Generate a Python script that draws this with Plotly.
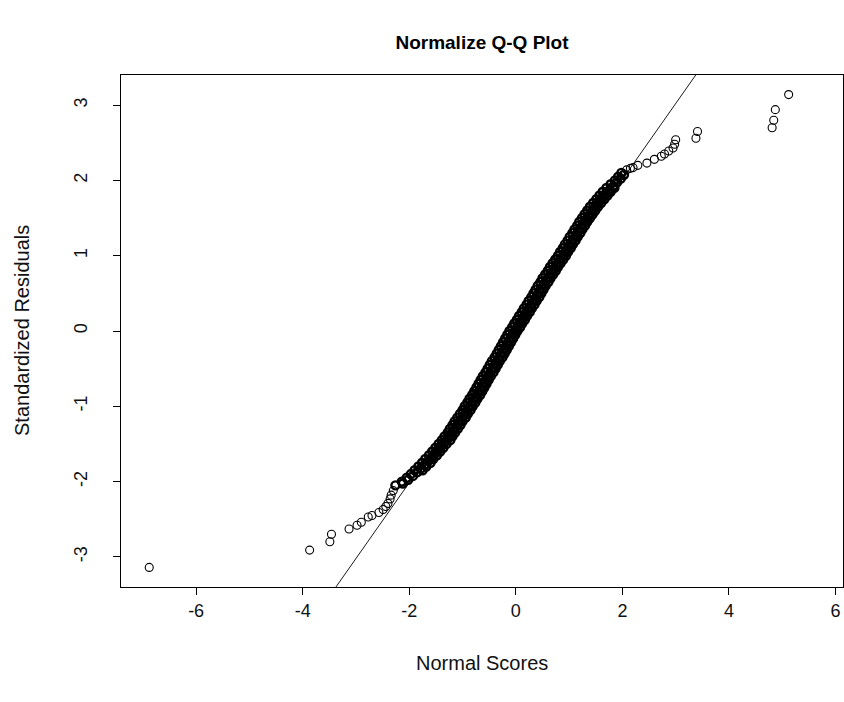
import plotly.graph_objects as go

# ---- data ----
# lower tail (x = normal scores, y = standardized residuals)
lower_x = [-6.88, -3.87, -3.49, -3.46, -3.13, -2.98, -2.90, -2.77, -2.70, -2.57,
           -2.49, -2.44, -2.40, -2.36, -2.34, -2.30]
lower_y = [-3.14, -2.91, -2.80, -2.70, -2.63, -2.58, -2.54, -2.47, -2.45, -2.41,
           -2.37, -2.33, -2.29, -2.23, -2.18, -2.12]

# central dense band, strand A (left edge)
band_a_y = [-2.05, -2.00, -1.95, -1.90, -1.85, -1.80, -1.75, -1.70, -1.65, -1.60,
            -1.55, -1.50, -1.45, -1.40, -1.35, -1.30, -1.25, -1.20, -1.15, -1.10,
            -1.05, -1.00, -0.95, -0.90, -0.85, -0.80, -0.75, -0.70, -0.65, -0.60,
            -0.55, -0.50, -0.45, -0.40, -0.35, -0.30, -0.25, -0.20, -0.15, -0.10,
            -0.05, 0.00, 0.05, 0.10, 0.15, 0.20, 0.25, 0.30, 0.35, 0.40,
            0.45, 0.50, 0.55, 0.60, 0.65, 0.70, 0.75, 0.80, 0.85, 0.90,
            0.95, 1.00, 1.05, 1.10, 1.15, 1.20, 1.25, 1.30, 1.35, 1.40,
            1.45, 1.50, 1.55, 1.60, 1.65, 1.70, 1.75, 1.80, 1.85, 1.90,
            1.95, 2.00, 2.05, 2.10]
band_a_x = [-2.26, -2.14, -2.05, -1.97, -1.90, -1.83, -1.76, -1.70, -1.63, -1.57,
            -1.51, -1.45, -1.39, -1.34, -1.28, -1.24, -1.19, -1.15, -1.10, -1.05,
            -1.00, -0.96, -0.91, -0.87, -0.82, -0.78, -0.74, -0.70, -0.66, -0.62,
            -0.57, -0.53, -0.49, -0.45, -0.40, -0.36, -0.32, -0.28, -0.24, -0.20,
            -0.16, -0.12, -0.07, -0.03, 0.02, 0.06, 0.11, 0.15, 0.20, 0.24,
            0.29, 0.33, 0.37, 0.41, 0.46, 0.50, 0.55, 0.60, 0.64, 0.69,
            0.74, 0.79, 0.83, 0.88, 0.92, 0.97, 1.01, 1.06, 1.10, 1.15,
            1.19, 1.24, 1.29, 1.34, 1.39, 1.45, 1.51, 1.57, 1.63, 1.70,
            1.78, 1.86, 1.92, 1.98]

# central dense band, strand B (middle)
band_b_y = [-2.025, -1.975, -1.925, -1.875, -1.825, -1.775, -1.725, -1.675, -1.625, -1.575,
            -1.525, -1.475, -1.425, -1.375, -1.325, -1.275, -1.225, -1.175, -1.125, -1.075,
            -1.025, -0.975, -0.925, -0.875, -0.825, -0.775, -0.725, -0.675, -0.625, -0.575,
            -0.525, -0.475, -0.425, -0.375, -0.325, -0.275, -0.225, -0.175, -0.125, -0.075,
            -0.025, 0.025, 0.075, 0.125, 0.175, 0.225, 0.275, 0.325, 0.375, 0.425,
            0.475, 0.525, 0.575, 0.625, 0.675, 0.725, 0.775, 0.825, 0.875, 0.925,
            0.975, 1.025, 1.075, 1.125, 1.175, 1.225, 1.275, 1.325, 1.375, 1.425,
            1.475, 1.525, 1.575, 1.625, 1.675, 1.725, 1.775, 1.825, 1.875, 1.925,
            1.975, 2.025, 2.075]
band_b_x = [-2.12, -2.02, -1.93, -1.85, -1.78, -1.70, -1.64, -1.57, -1.51, -1.45,
            -1.39, -1.33, -1.27, -1.23, -1.17, -1.13, -1.08, -1.03, -0.98, -0.94,
            -0.89, -0.84, -0.80, -0.75, -0.71, -0.67, -0.63, -0.59, -0.55, -0.50,
            -0.46, -0.42, -0.38, -0.33, -0.29, -0.25, -0.21, -0.17, -0.13, -0.09,
            -0.05, 0.00, 0.04, 0.09, 0.13, 0.18, 0.22, 0.27, 0.31, 0.36,
            0.40, 0.44, 0.48, 0.53, 0.57, 0.62, 0.67, 0.71, 0.76, 0.81,
            0.86, 0.90, 0.95, 0.99, 1.04, 1.08, 1.13, 1.17, 1.22, 1.26,
            1.31, 1.36, 1.41, 1.46, 1.51, 1.57, 1.63, 1.69, 1.76, 1.83,
            1.90, 1.97, 2.03]

# central dense band, strand C (right edge)
band_c_y = [-1.85, -1.80, -1.75, -1.70, -1.65, -1.60, -1.55, -1.50, -1.45, -1.40,
            -1.35, -1.30, -1.25, -1.20, -1.15, -1.10, -1.05, -1.00, -0.95, -0.90,
            -0.85, -0.80, -0.75, -0.70, -0.65, -0.60, -0.55, -0.50, -0.45, -0.40,
            -0.35, -0.30, -0.25, -0.20, -0.15, -0.10, -0.05, 0.00, 0.05, 0.10,
            0.15, 0.20, 0.25, 0.30, 0.35, 0.40, 0.45, 0.50, 0.55, 0.60,
            0.65, 0.70, 0.75, 0.80, 0.85, 0.90, 0.95, 1.00, 1.05, 1.10,
            1.15, 1.20, 1.25, 1.30, 1.35, 1.40, 1.45, 1.50, 1.55, 1.60,
            1.65, 1.70, 1.75, 1.80, 1.85, 1.90]
band_c_x = [-1.75, -1.68, -1.60, -1.55, -1.48, -1.42, -1.36, -1.30, -1.23, -1.19,
            -1.14, -1.09, -1.04, -1.00, -0.94, -0.90, -0.85, -0.81, -0.76, -0.72,
            -0.67, -0.63, -0.59, -0.55, -0.51, -0.47, -0.42, -0.38, -0.34, -0.30,
            -0.25, -0.21, -0.17, -0.13, -0.09, -0.05, -0.01, 0.03, 0.08, 0.12,
            0.17, 0.21, 0.26, 0.30, 0.35, 0.39, 0.44, 0.48, 0.52, 0.56,
            0.61, 0.65, 0.70, 0.75, 0.79, 0.84, 0.89, 0.94, 0.98, 1.03,
            1.07, 1.12, 1.16, 1.21, 1.25, 1.30, 1.34, 1.39, 1.44, 1.49,
            1.54, 1.60, 1.66, 1.72, 1.78, 1.85]

# upper tail
upper_x = [2.08, 2.15, 2.20, 2.29, 2.46, 2.60, 2.73, 2.79, 2.87, 2.95,
           2.98, 3.00, 3.38, 3.41, 4.81, 4.84, 4.87, 5.12]
upper_y = [2.14, 2.16, 2.17, 2.20, 2.23, 2.28, 2.32, 2.35, 2.39, 2.43,
           2.48, 2.54, 2.56, 2.65, 2.70, 2.80, 2.94, 3.14]

# reference line (qqline)
line_intercept = 0.0
line_slope = 1.007

x_ticks = [-6, -4, -2, 0, 2, 4, 6]
y_ticks = [-3, -2, -1, 0, 1, 2, 3]
x_range = [-7.41, 6.14]
y_range = [-3.40, 3.40]

title_text = "Normalize Q-Q Plot"
x_title = "Normal Scores"
y_title = "Standardized Residuals"

# ---- figure ----
band_x = band_a_x + band_b_x + band_c_x
band_y = band_a_y + band_b_y + band_c_y
tail_x = lower_x + upper_x
tail_y = lower_y + upper_y

fig = go.Figure()
lx = x_range
ly = [line_intercept + line_slope * v for v in lx]
fig.add_trace(go.Scatter(x=lx, y=ly, mode="lines",
                         line=dict(color="black", width=0.9),
                         showlegend=False, hoverinfo="skip"))

# dense central part: hundreds of overlapping circles in the original -> solid ribbon
fig.add_trace(go.Scatter(
    x=band_x, y=band_y, mode="markers",
    marker=dict(symbol="circle-open", size=8, color="black",
                line=dict(width=2.4, color="black")),
    showlegend=False, hoverinfo="x+y"))

fig.add_trace(go.Scatter(
    x=tail_x, y=tail_y, mode="markers",
    marker=dict(symbol="circle-open", size=8, color="black",
                line=dict(width=1.1, color="black")),
    showlegend=False, hoverinfo="x+y"))

font_family = "Liberation Sans, Arial, sans-serif"
axis_common = dict(showgrid=False, zeroline=False, showline=True, mirror=True,
                   linecolor="black", linewidth=1, ticks="outside", ticklen=7,
                   tickwidth=1, tickcolor="black",
                   tickfont=dict(family=font_family, size=18, color="#111"))

fig.update_layout(
    width=844, height=702,
    margin=dict(l=121, r=1, t=75, b=115),
    paper_bgcolor="white", plot_bgcolor="white",
    title=dict(text="<b>" + title_text + "</b>", x=0.5, xref="paper",
               y=1 - 42 / 702, yref="container", yanchor="middle", xanchor="center",
               font=dict(family=font_family, size=19, color="black")),
    xaxis=dict(range=x_range, tickvals=x_ticks, ticktext=[str(v) for v in x_ticks],
               **axis_common),
    yaxis=dict(range=y_range, tickvals=y_ticks, ticktext=[str(v) for v in y_ticks],
               tickangle=-90, ticklabelstandoff=19,
               **axis_common),
    annotations=[
        dict(text=x_title, xref="paper", yref="paper", x=0.5, y=(587 - 663) / 512,
             xanchor="center", yanchor="middle", showarrow=False,
             font=dict(family=font_family, size=20, color="#111")),
        dict(text=y_title, xref="paper", yref="paper", x=(22 - 121) / 722, y=0.5,
             xanchor="center", yanchor="middle", showarrow=False, textangle=-90,
             font=dict(family=font_family, size=20, color="#111")),
    ],
)

fig.write_html("out.html")
